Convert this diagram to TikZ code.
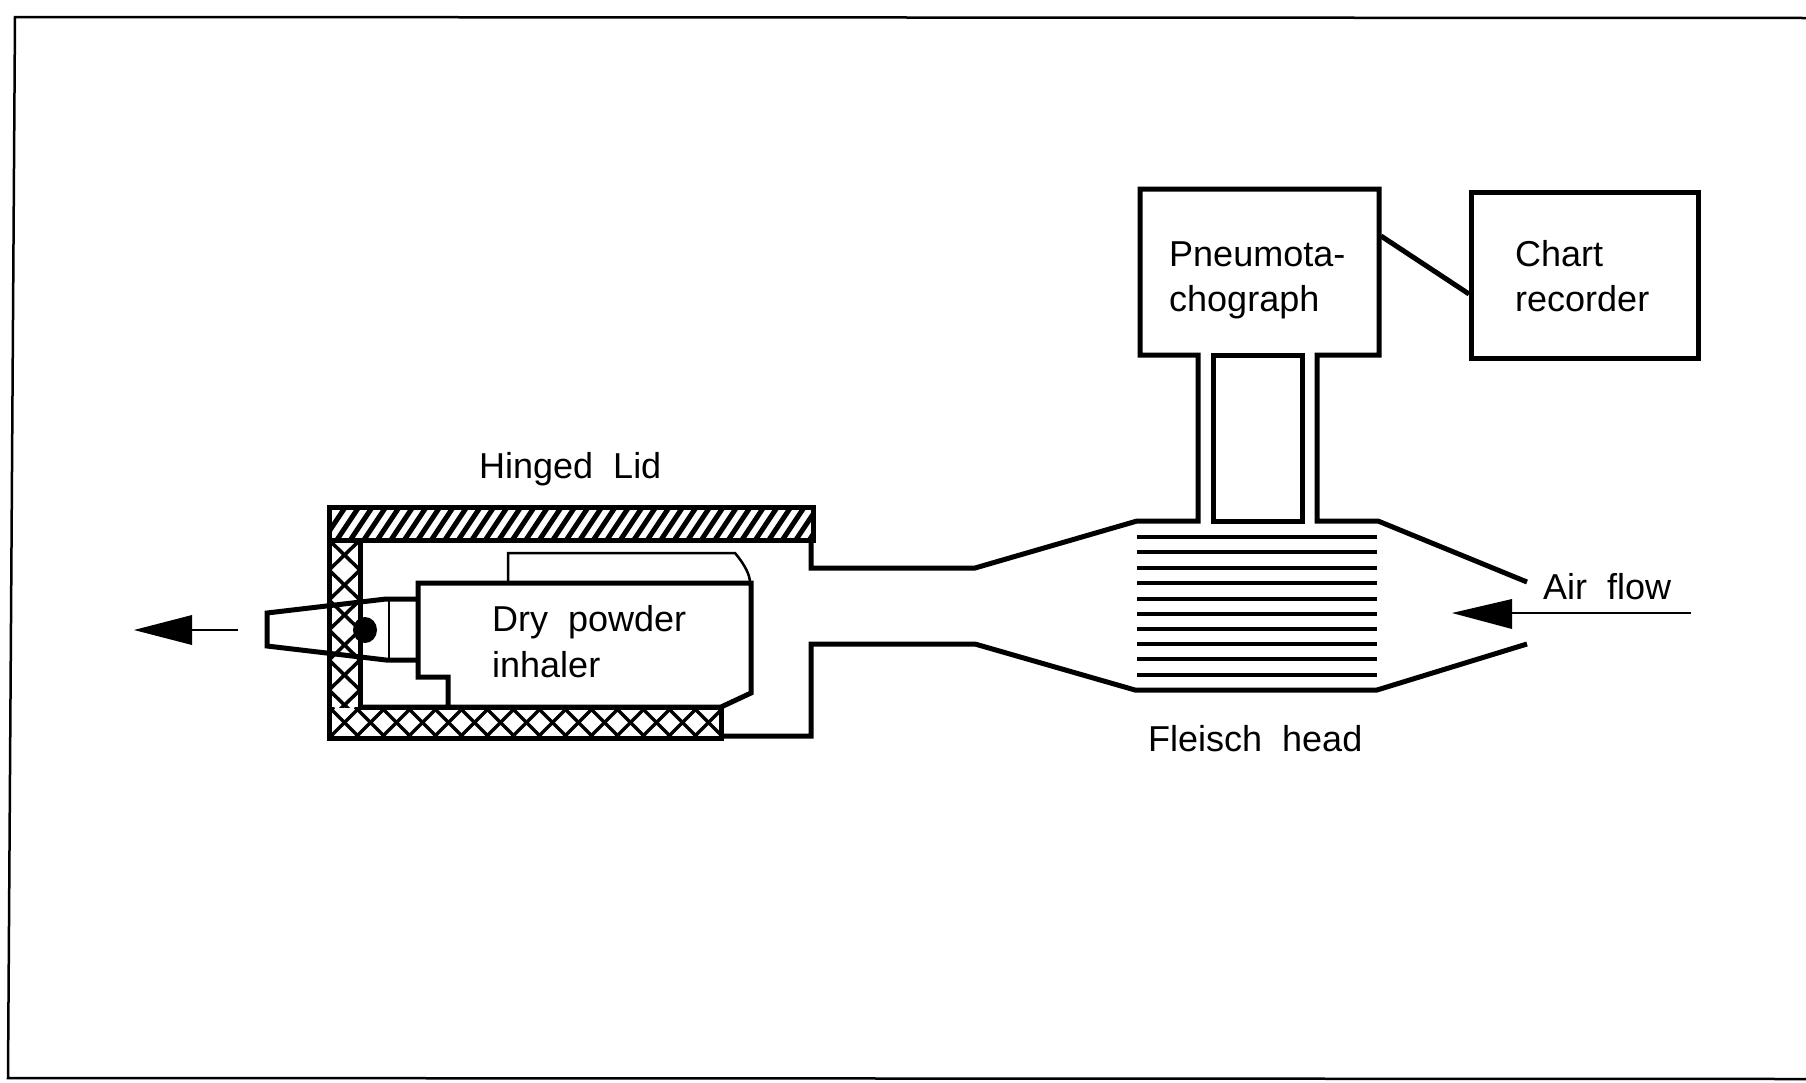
\documentclass[tikz,border=0pt]{standalone}
\usepackage{fontspec}
\setmainfont{Liberation Sans}
\tikzset{
  ink/.style={line width=5pt,line join=miter,line cap=butt},
  thin ink/.style={line width=2.5pt},
  plate/.style={line width=3.2pt},
  label/.style={anchor=base west,inner sep=0pt,font=\fontsize{36}{40}\selectfont},
}
\begin{document}
\begin{tikzpicture}[x=1pt,y=-1pt]
\useasboundingbox (0,0) rectangle (1806,1082);
\fill[white] (0,0) rectangle (1806,1082);
% frame
\draw[line width=2.5pt] (1806,18) -- (15,17) -- (8,1078) -- (1806,1079);
% hatched lid
\begin{scope}
  \clip (329,507) rectangle (813,540);
  \foreach \i in {0,...,40} {
    \draw[line width=5pt] ({320+\i*13.5},545) -- ({320+\i*13.5+30},500);
  }
\end{scope}
\draw[ink] (329,507) rectangle (813,540);
% cross-hatched walls
\begin{scope}
  \clip (329,707) rectangle (721,738);
  \foreach \i in {-1,...,17} {
    \draw[line width=3.5pt] ({329+\i*26},738) -- ({329+\i*26+31},707);
    \draw[line width=3.5pt] ({329+\i*26},707) -- ({329+\i*26+31},738);
  }
\end{scope}
\begin{scope}
  \clip (329,540) rectangle (360,707);
  \foreach \i in {-1,...,7} {
    \draw[line width=3.5pt] (329,{540+\i*30}) -- (360,{570+\i*30});
    \draw[line width=3.5pt] (360,{540+\i*30}) -- (329,{570+\i*30});
  }
\end{scope}
\draw[ink] (329,540) -- (329,738) -- (721,738) -- (721,707) -- (360,707) -- (360,540);
% casing and duct
\draw[ink] (721,736) -- (811,736) -- (811,644) -- (975,644) -- (1135,690) -- (1377,690) -- (1527,644);
\draw[ink] (811,538) -- (811,568) -- (975,568) -- (1137,521) -- (1198,521) -- (1198,355) -- (1140,355) -- (1140,189) -- (1379,189) -- (1379,355) -- (1317,355) -- (1317,521) -- (1378,521) -- (1527,582);
\draw[ink] (1213,355) rectangle (1302,521);
% flow plates
\foreach \y in {537,552,568,583,599,614,629,644,659,675} {
  \draw[plate] (1137,\y) -- (1377,\y);
}
% recorder
\node[draw,line width=5pt,minimum width=227pt,minimum height=166pt,inner sep=0pt,anchor=north west] (recorder) at (1469,190) {};
\coordinate (pneuOut) at (1381,236);
\draw[ink] (pneuOut) -- (recorder.west |- 0,294);
% inhaler
\draw[thin ink] (508,583) -- (508,553) -- (735,553) .. controls (745,565) and (750,575) .. (750,583);
\draw[ink] (448,707) -- (448,677) -- (418,677) -- (418,583) -- (751,583) -- (751,693) -- (721,707) -- (360,707);
% mouthpiece
\draw[ink] (418,599) -- (386,599) -- (267,613) -- (267,646) -- (386,660) -- (418,660);
\draw[thin ink] (389,600) -- (389,660);
\fill (365,630) ellipse (12 and 13);
% arrows
\fill (134,630) -- (192,615) -- (192,645) -- cycle;
\draw[thin ink] (190,630) -- (238,630);
\fill (1452,613) -- (1512,599) -- (1512,629) -- cycle;
\draw[thin ink] (1510,613) -- (1691,613);
% labels
\node[label] (lid) at (479,478) {Hinged\ \ Lid};
\node[label] (dry) at (492,631) {Dry\ \ powder};
\node[label] (inh) at (492,677) {inhaler};
\node[label] (pn1) at (1169,266) {Pneumota-};
\node[label] (pn2) at (1169,311) {chograph};
\node[label] (ch1) at (1515,266) {Chart};
\node[label] (ch2) at (1515,311) {recorder};
\node[label] (air) at (1543,599) {Air\ \ flow};
\node[label] (fle) at (1148,751) {Fleisch\ \ head};
\end{tikzpicture}
\end{document}
